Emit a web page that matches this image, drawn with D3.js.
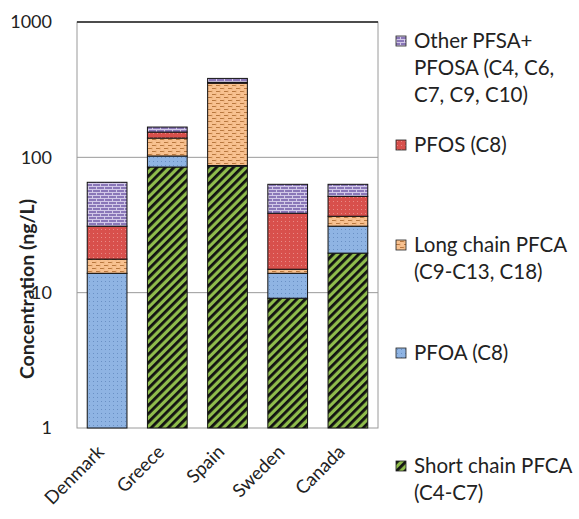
<!DOCTYPE html>
<html><head><meta charset="utf-8">
<script src="https://cdn.jsdelivr.net/npm/d3@7"></script>
<style>body{margin:0;background:#fff}svg{display:block}text{font-family:Lato,"Open Sans",sans-serif;fill:#222}</style>
</head><body><div id="chart"></div>
<script>
const categories = ["Denmark","Greece","Spain","Sweden","Canada"];
const shortChain = [0, 84.8, 86, 9.1, 19.6];
const pfoa = [13.9, 17.5, 1, 4.8, 11.4];
const longChain = [3.8, 36.5, 266, 1.0, 5.7];
const pfos = [13.3, 14.9, 5, 23.7, 14.8];
const other = [34.4, 13.7, 25, 24.6, 11.7];
const yTicks = [1, 10, 100, 1000];
const seriesNames = ["Short chain PFCA","PFOA","Long chain PFCA","PFOS","Other"];
const legendLabels = [
  ["Other PFSA+","PFOSA (C4, C6,","C7, C9, C10)"],
  ["PFOS (C8)"],
  ["Long chain PFCA","(C9-C13, C18)"],
  ["PFOA (C8)"],
  ["Short chain PFCA","(C4-C7)"]
];
const legendKeys = ["Other","PFOS","Long chain PFCA","PFOA","Short chain PFCA"];

const W = 579, H = 519;
const m = {left:77, right:201, top:22, bottom:91};
const svg = d3.select("#chart").append("svg").attr("width",W).attr("height",H);
const defs = svg.append("defs");

// patterns
const pGreen = defs.append("pattern").attr("id","p-short").attr("patternUnits","userSpaceOnUse")
  .attr("width",6).attr("height",6).attr("patternTransform","rotate(45)");
pGreen.append("rect").attr("width",6).attr("height",6).attr("fill","#8fbc4c");
pGreen.append("rect").attr("width",2.8).attr("height",6).attr("fill","#111");

const pBlue = defs.append("pattern").attr("id","p-pfoa").attr("patternUnits","userSpaceOnUse").attr("width",4).attr("height",4);
pBlue.append("rect").attr("width",4).attr("height",4).attr("fill","#8fb4e3");
pBlue.append("rect").attr("x",1).attr("y",1).attr("width",1).attr("height",1).attr("fill","#6a90c4");

const pOr = defs.append("pattern").attr("id","p-long").attr("patternUnits","userSpaceOnUse").attr("width",8).attr("height",6);
pOr.append("rect").attr("width",8).attr("height",6).attr("fill","#f8c190");
pOr.append("path").attr("d","M0,1.5 h4 M4,4.5 h4").attr("stroke","#b8773e").attr("stroke-width",1.2);
pOr.append("path").attr("d","M4,0.5 v2 M0,3.5 v2 M8,3.5 v2").attr("stroke","#d89a62").attr("stroke-width",0.8);

const pRed = defs.append("pattern").attr("id","p-pfos").attr("patternUnits","userSpaceOnUse").attr("width",4).attr("height",4);
pRed.append("rect").attr("width",4).attr("height",4).attr("fill","#d8504c");
pRed.append("rect").attr("x",1).attr("y",1).attr("width",1).attr("height",1).attr("fill","#e98a86");

const pPur = defs.append("pattern").attr("id","p-other").attr("patternUnits","userSpaceOnUse").attr("width",8).attr("height",6);
pPur.append("rect").attr("width",8).attr("height",6).attr("fill","#8a77b8");
pPur.append("path").attr("d","M0,0.5 h8 M0,3.5 h8 M0.5,0 v3 M4.5,3 v3").attr("stroke","#d2c9e8").attr("stroke-width",1);

const fills = {"Short chain PFCA":"url(#p-short)","PFOA":"url(#p-pfoa)","Long chain PFCA":"url(#p-long)","PFOS":"url(#p-pfos)","Other":"url(#p-other)"};

const x = d3.scaleBand().domain(categories).range([m.left, W-m.right]).paddingInner(0.34).paddingOuter(0.17);
const y = d3.scaleLog().domain([1,1000]).range([H-m.bottom, m.top]);

// gridlines
svg.append("g").selectAll("line").data(yTicks.slice(1,3)).join("line")
  .attr("x1",m.left).attr("x2",W-m.right).attr("y1",d=>y(d)).attr("y2",d=>y(d))
  .attr("stroke","#9a9a9a").attr("stroke-width",1);
// plot border
svg.append("rect").attr("x",m.left).attr("y",m.top).attr("width",W-m.right-m.left).attr("height",H-m.bottom-m.top)
  .attr("fill","none").attr("stroke","#9a9a9a").attr("stroke-width",1);
svg.append("line").attr("x1",m.left).attr("x2",W-m.right).attr("y1",y(1000)).attr("y2",y(1000)).attr("stroke","#222").attr("stroke-width",1.5);

const table = categories.map((c,i)=>({cat:c,"Short chain PFCA":shortChain[i],"PFOA":pfoa[i],"Long chain PFCA":longChain[i],"PFOS":pfos[i],"Other":other[i]}));
const stacked = d3.stack().keys(seriesNames)(table);
const yy = v => y(Math.max(1,v));

svg.append("g").selectAll("g").data(stacked).join("g").attr("fill",d=>fills[d.key])
  .selectAll("rect").data(d=>d.filter(s=>s[1]-s[0]>0)).join("rect")
  .attr("x",d=>x(d.data.cat)).attr("width",x.bandwidth())
  .attr("y",d=>yy(d[1])).attr("height",d=>yy(d[0])-yy(d[1]))
  .attr("stroke","#111").attr("stroke-width",1);

// y axis
const ya = svg.append("g").attr("transform",`translate(${m.left},0)`)
  .call(d3.axisLeft(y).tickValues(yTicks).tickFormat(d3.format("d")).tickSize(0).tickPadding(25));
ya.select(".domain").remove();
ya.selectAll("text").style("font-size","18px").style("font-family","Lato,'Open Sans',sans-serif").attr("fill","#222");

// x axis labels
const xa = svg.append("g").attr("transform",`translate(0,${H-m.bottom})`)
  .call(d3.axisBottom(x).tickSize(0).tickPadding(0));
xa.select(".domain").remove();
xa.selectAll("text").attr("text-anchor","end").attr("dy",0).attr("y",0)
  .attr("transform","translate(-2,25) rotate(-45)")
  .style("font-size","18.5px").style("font-family","Lato,'Open Sans',sans-serif").attr("fill","#222");

// y title
svg.append("text").attr("transform","translate(34,289) rotate(-90)").attr("text-anchor","middle")
  .style("font-size","19.5px").style("font-weight","bold").text("Concentration (ng/L)");

// legend
const legTop = [41,145,245,353,466];
const lg = svg.append("g");
legendKeys.forEach((k,i)=>{
  const g = lg.append("g");
  g.append("rect").attr("x",396).attr("y",legTop[i]-5).attr("width",10).attr("height",10)
    .attr("fill",fills[k]).attr("stroke","#222").attr("stroke-width",0.8);
  legendLabels[i].forEach((t,j)=>{
    g.append("text").attr("x",414).attr("y",legTop[i]+j*27).attr("dy","0.35em")
      .style("font-size","20.5px").text(t);
  });
});
</script></body></html>
